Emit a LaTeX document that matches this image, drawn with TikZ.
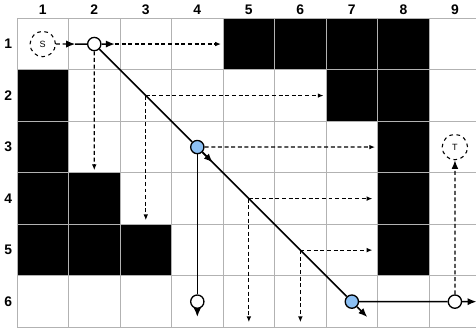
\documentclass[tikz,border=0pt]{standalone}
\usepackage{fontspec}
\setmainfont{Liberation Sans}
\usetikzlibrary{arrows.meta}

\definecolor{jumpblue}{RGB}{140,192,244}

\begin{document}
\begin{tikzpicture}[scale=1.5,
	every node/.style={font=\fontsize{11.5}{13}\selectfont\bfseries},
	wall/.style={fill=black},
	pt/.style={circle,draw,line width=1.1pt,fill=white,minimum size=11pt,inner sep=0pt},
	jp/.style={pt,fill=jumpblue},
	term/.style={circle,draw,dashed,line width=0.9pt,minimum size=21pt,inner sep=0pt,font=\fontsize{7.5}{9}\selectfont},
	path/.style={line width=1.3pt},
	scan/.style={line width=1pt,dash pattern=on 3.3pt off 2.2pt,-{Latex[length=4.8pt,width=3.8pt]}},
	big/.style={line width=1.3pt,-{Latex[length=7.5pt,width=6pt]}}]
	\useasboundingbox (-0.33,0.355) rectangle (8.91,-6.09);
	% blocked cells
	\foreach \c/\r in {5/1,6/1,7/1,8/1,1/2,7/2,8/2,1/3,8/3,1/4,2/4,8/4,1/5,2/5,3/5,8/5}
		\fill[wall] (\c-1,1-\r) rectangle (\c,-\r);
	\draw[black!30,line width=0.8pt] (0,0) grid (9,-6);
	% column and row numbers
	\foreach \i in {1,...,9} \node (col\i) at (\i-0.5,0.17) {\i};
	\foreach \i in {1,...,6} \node (row\i) at (-0.17,0.5-\i) {\i};
	% points
	\node[term] (S) at (0.5,-0.5) {S};
	\node[term] (T) at (8.5,-2.5) {T};
	\node[pt] (n21) at (1.5,-0.5) {};
	\node[jp] (b43) at (3.5,-2.5) {};
	\node[pt] (n46) at (3.5,-5.5) {};
	\node[jp] (b76) at (6.5,-5.5) {};
	\node[pt] (n96) at (8.5,-5.5) {};
	\coordinate (s1) at (1.13,-0.5);
	\coordinate (r21) at (1.9,-0.5);
	\coordinate (e21r) at (3.96,-0.5);
	\coordinate (e21d) at (1.5,-2.95);
	\coordinate (j32) at (2.5,-1.5);
	\coordinate (e32r) at (5.95,-1.5);
	\coordinate (e32d) at (2.5,-3.92);
	\coordinate (d43) at (3.8,-2.8);
	\coordinate (e43r) at (6.95,-2.5);
	\coordinate (j54) at (4.5,-3.5);
	\coordinate (e54r) at (6.9,-3.5);
	\coordinate (e54d) at (4.5,-5.9);
	\coordinate (j65) at (5.5,-4.5);
	\coordinate (e65r) at (6.9,-4.5);
	\coordinate (e65d) at (5.5,-5.9);
	\coordinate (d46) at (3.5,-5.8);
	\coordinate (d76) at (6.8,-5.8);
	\coordinate (r96) at (8.92,-5.5);
	% scans
	\draw[scan,-{Latex[length=7.5pt,width=6pt]}] (S) -- (s1);
	\draw[path] (s1) -- (n21);
	\draw[big] (n21) -- (r21);
	\draw[scan] (r21) -- (e21r);
	\draw[scan] (n21) -- (e21d);
	\draw[scan] (j32) -- (e32r);
	\draw[scan] (j32) -- (e32d);
	\draw[scan] (b43) -- (e43r);
	\draw[scan] (j54) -- (e54r);
	\draw[scan] (j54) -- (e54d);
	\draw[scan] (j65) -- (e65r);
	\draw[scan] (j65) -- (e65d);
	\draw[scan,-{Latex[length=7pt,width=5.5pt]}] (n96) -- (T);
	% path
	\draw[path] (n21) -- (b43);
	\draw[path] (b43) -- (b76);
	\draw[big] (b43) -- (d43);
	\draw[path] (b43) -- (n46);
	\draw[big] (n46) -- (d46);
	\draw[big] (b76) -- (d76);
	\draw[path] (b76) -- (n96);
	\draw[big] (n96) -- (r96);
\end{tikzpicture}
\end{document}
